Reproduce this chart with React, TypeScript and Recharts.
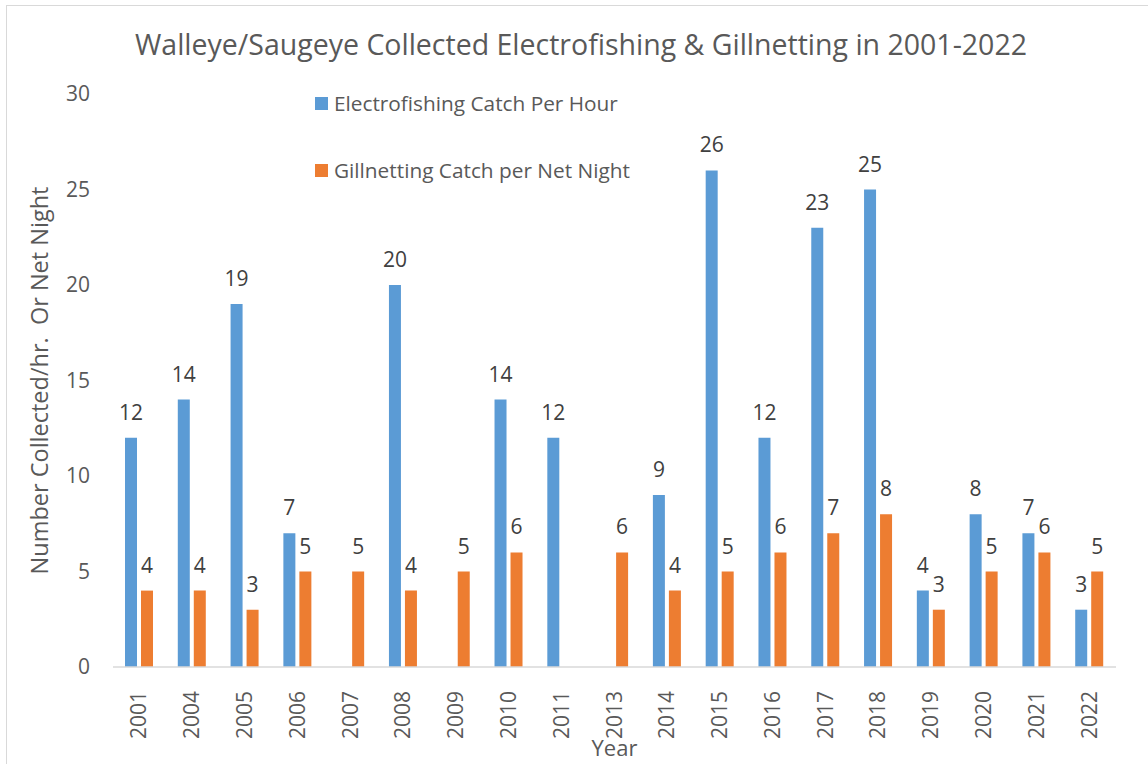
import { Bar, BarChart, XAxis, YAxis, LabelList, Label } from "recharts";

const years = ["2001", "2004", "2005", "2006", "2007", "2008", "2009", "2010", "2011", "2013", "2014", "2015", "2016", "2017", "2018", "2019", "2020", "2021", "2022"];
const electrofishing = [12, 14, 19, 7, null, 20, null, 14, 12, null, 9, 26, 12, 23, 25, 4, 8, 7, 3];
const gillnetting = [4, 4, 3, 5, 5, 4, 5, 6, null, 6, 4, 5, 6, 7, 8, 3, 5, 6, 5];
const yTicks = [0, 5, 10, 15, 20, 25, 30];

const FONT = "'Open Sans', sans-serif";
const BLUE = "#5B9BD5";
const ORANGE = "#ED7D31";
const GREY = "#595959";

const data = years.map((year, i) => ({
  year,
  electro: electrofishing[i],
  gill: gillnetting[i],
}));

const series = [
  { name: "Electrofishing Catch Per Hour", color: BLUE },
  { name: "Gillnetting Catch per Net Night", color: ORANGE },
];

function YearTick({ x, y, payload }: any) {
  return (
    <text
      transform={`translate(${x + 7},${y + 16}) rotate(-90)`}
      textAnchor="end"
      fill={GREY}
      fontSize={21}
      fontFamily={FONT}
    >
      {payload.value}
    </text>
  );
}

// legend sits inside the plot, so it's a plain overlay rather than recharts' Legend
function SeriesLegend() {
  return (
    <div style={{ position: "absolute", left: 315, top: 91, fontFamily: FONT, fontSize: 20.8, color: GREY }}>
      {series.map((s, i) => (
        <div key={s.name} style={{ display: "flex", alignItems: "center", height: 24, marginTop: i ? 43 : 0, whiteSpace: "nowrap" }}>
          <span style={{ width: 13, height: 13, background: s.color, marginRight: 6 }} />
          {s.name}
        </div>
      ))}
    </div>
  );
}

export default function App() {
  return (
    <div style={{ position: "fixed", left: 0, top: 0, width: 1148, height: 764, overflow: "hidden", background: "#fff" }}>
      <div style={{ position: "absolute", left: 6, top: 5, width: 1200, height: 900, border: "1.5px solid #D9D9D9" }} />
      <div
        style={{
          position: "absolute",
          top: 25,
          left: 0,
          width: 1162,
          textAlign: "center",
          fontFamily: FONT,
          fontSize: 28.5,
          color: GREY,
          whiteSpace: "nowrap",
        }}
      >
        Walleye/Saugeye Collected Electrofishing &amp; Gillnetting in 2001-2022
      </div>
      <BarChart
        width={1148}
        height={764}
        data={data}
        margin={{ top: 94, right: 32, left: 0, bottom: 0 }}
        barSize={12}
        barGap={4}
        style={{ position: "absolute", left: 0, top: 0 }}
      >
        <XAxis
          dataKey="year"
          height={97}
          interval={0}
          tick={<YearTick />}
          tickLine={false}
          axisLine={{ stroke: "#D9D9D9", strokeWidth: 1.5 }}
        >
          <Label value="Year" position="insideBottom" offset={8} fill={GREY} fontSize={22} fontFamily={FONT} />
        </XAxis>
        <YAxis
          width={113}
          domain={[0, 30]}
          ticks={yTicks}
          tickLine={false}
          axisLine={false}
          tickSize={0}
          tickMargin={23}
          tick={{ fill: GREY, fontSize: 21, fontFamily: FONT }}
        >
          <Label
            value={"Number Collected/hr.\u00A0 Or Net Night"}
            angle={-90}
            position="insideLeft"
            offset={40}
            fill={GREY}
            fontSize={23.5}
            fontFamily={FONT}
            style={{ textAnchor: "middle" }}
          />
        </YAxis>
        <Bar dataKey="electro" name={series[0].name} fill={BLUE} isAnimationActive={false}>
          <LabelList dataKey="electro" position="top" offset={18} fill="#404040" fontSize={21} fontFamily={FONT} />
        </Bar>
        <Bar dataKey="gill" name={series[1].name} fill={ORANGE} isAnimationActive={false}>
          <LabelList dataKey="gill" position="top" offset={18} fill="#404040" fontSize={21} fontFamily={FONT} />
        </Bar>
      </BarChart>
      <SeriesLegend />
    </div>
  );
}
